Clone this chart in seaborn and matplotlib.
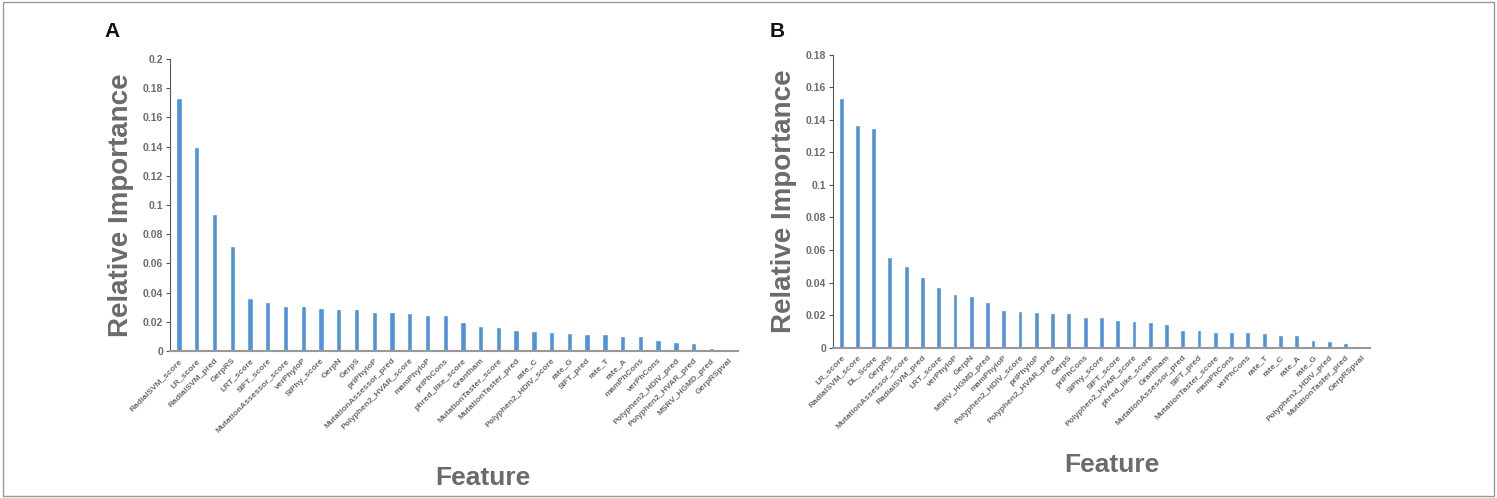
import matplotlib
matplotlib.use("Agg")
import matplotlib.pyplot as plt
import seaborn as sns
import pandas as pd
from matplotlib.patches import Rectangle
from matplotlib.ticker import FuncFormatter

# Pannello A
features_a = ['RadialSVM_score', 'LR_score', 'RadialSVM_pred', 'GerpRS', 'LRT_score', 'SIFT_score',
              'MutationAssessor_score', 'verPhyloP', 'SiPhy_score', 'GerpN', 'GerpS', 'priPhyloP',
              'MutationAssessor_pred', 'Polyphen2_HVAR_score', 'mamPhyloP', 'priPhCons',
              'phred_like_score', 'Grantham', 'MutationTaster_score', 'MutationTaster_pred', 'rate_C',
              'Polyphen2_HDIV_score', 'rate_G', 'SIFT_pred', 'rate_T', 'rate_A', 'mamPhCons',
              'verPhCons', 'Polyphen2_HDIV_pred', 'Polyphen2_HVAR_pred', 'MSRV_HGMD_pred', 'GerpRSpval']
importance_a = [0.1733, 0.140, 0.0937, 0.072, 0.0363, 0.0338, 0.0311, 0.031, 0.0293, 0.029, 0.0286,
                0.0265, 0.0265, 0.026, 0.0249, 0.0245, 0.0199, 0.0169, 0.0165, 0.0144, 0.0137, 0.013,
                0.0126, 0.0117, 0.0117, 0.0105, 0.0105, 0.0078, 0.0064, 0.0057, 0.002, 0.0003]

# Pannello B
features_b = ['LR_score', 'RadialSVM_score', 'DL_Score', 'GerpRS', 'MutationAssessor_score',
              'RadialSVM_pred', 'LRT_score', 'verPhyloP', 'GerpN', 'MSRV_HGMD_pred', 'mamPhyloP',
              'Polyphen2_HDIV_score', 'priPhyloP', 'Polyphen2_HVAR_pred', 'GerpS', 'priPhCons',
              'SiPhy_score', 'SIFT_score', 'Polyphen2_HVAR_score', 'phred_like_score', 'Grantham',
              'MutationAssessor_pred', 'SIFT_pred', 'MutationTaster_score', 'mamPhCons', 'verPhCons',
              'rate_T', 'rate_C', 'rate_A', 'rate_G', 'Polyphen2_HDIV_pred', 'MutationTaster_pred',
              'GerpRSpval']
importance_b = [0.1534, 0.1368, 0.135, 0.0559, 0.0504, 0.0436, 0.0373, 0.0328, 0.0315, 0.0283,
                0.0229, 0.0225, 0.0219, 0.0215, 0.0213, 0.019, 0.0186, 0.0168, 0.0162, 0.0156,
                0.0143, 0.011, 0.0106, 0.0098, 0.0096, 0.0094, 0.009, 0.0078, 0.0076, 0.0045,
                0.0043, 0.0027, 0.001]

BAR_COLOR = '#4f94d8'
TEXT_GRAY = '#6b6b6b'

sns.set_style("white")
plt.rcParams['font.family'] = ['Liberation Sans', 'DejaVu Sans']

fig = plt.figure(figsize=(14.97, 4.98), dpi=100)
fig.patches.append(Rectangle((0.002, 0.004), 0.996, 0.992, transform=fig.transFigure,
                             fill=False, edgecolor='#9a9a9a', linewidth=1.0))


def draw_panel(ax, features, values, ymax, xlabel_x, xlabel_y):
    df = pd.DataFrame({'Feature': features, 'Importance': values})
    sns.barplot(data=df, x='Feature', y='Importance', color=BAR_COLOR, width=0.3,
                saturation=1, ax=ax)
    ax.set_xlim(-0.5, len(features) - 0.5)
    ax.set_ylim(0, ymax)
    ticks = [i * 0.02 for i in range(int(round(ymax / 0.02)) + 1)]
    ax.set_yticks(ticks)
    ax.yaxis.set_major_formatter(FuncFormatter(lambda v, p: '{:g}'.format(round(v, 2))))
    ax.tick_params(axis='y', left=True, length=3, width=0.8, color='#555555',
                   labelsize=7.5, labelcolor=TEXT_GRAY, pad=2)
    ax.tick_params(axis='x', bottom=False, labelsize=6, labelcolor=TEXT_GRAY, pad=1)
    for lbl in ax.get_yticklabels():
        lbl.set_fontweight('bold')
    ax.set_xticks(range(len(features)))
    ax.set_xticklabels(features, rotation=45, ha='right', rotation_mode='anchor',
                       fontweight='bold')
    for s in ['top', 'right']:
        ax.spines[s].set_visible(False)
    ax.spines['left'].set_color('#555555')
    ax.spines['left'].set_linewidth(0.8)
    ax.spines['bottom'].set_color('#999999')
    ax.spines['bottom'].set_linewidth(1.5)
    ax.set_ylabel('Relative Importance', fontsize=20, fontweight='bold', color=TEXT_GRAY,
                  labelpad=6)
    ax.set_xlabel('Feature', fontsize=19, fontweight='bold', color=TEXT_GRAY)
    ax.xaxis.set_label_coords(xlabel_x, xlabel_y)
    return ax


ax_a = fig.add_axes([0.1136, 0.2952, 0.3794, 0.5863])
draw_panel(ax_a, features_a, importance_a, 0.2, 0.55, -0.395)
ax_b = fig.add_axes([0.5564, 0.3018, 0.3587, 0.5884])
draw_panel(ax_b, features_b, importance_b, 0.18, 0.52, -0.36)

fig.text(0.070, 0.925, 'A', fontsize=15, fontweight='bold', color='#111111')
fig.text(0.514, 0.925, 'B', fontsize=15, fontweight='bold', color='#111111')

fig.savefig('out.png', dpi=100)
